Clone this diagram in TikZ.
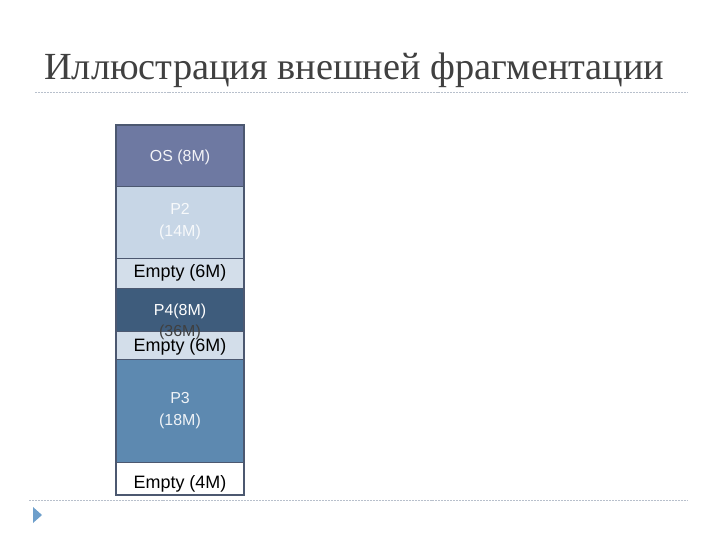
\documentclass[tikz,border=0pt]{standalone}
\usepackage{fontspec}
\setmainfont{Liberation Serif}
\setsansfont{Liberation Sans}
\definecolor{titlec}{HTML}{404040}
\definecolor{osc}{HTML}{6E79A2}
\definecolor{p2c}{HTML}{C7D6E6}
\definecolor{emc}{HTML}{D3DEEA}
\definecolor{p4c}{HTML}{3E5C7C}
\definecolor{p3c}{HTML}{5D89B0}
\definecolor{bordc}{HTML}{4C5870}
\definecolor{dashc}{HTML}{B8C0CC}
\definecolor{bulc}{HTML}{6E9FCB}
\tikzset{
  blk/.style={draw=bordc, line width=1.3pt},
  lbl/.style={font=\sffamily\fontsize{16}{19}\selectfont, align=center, inner sep=0pt},
  elbl/.style={font=\sffamily\fontsize{18}{21}\selectfont, text=black, inner sep=0pt},
  sep/.style={draw=dashc, dashed, dash pattern=on 2pt off 1pt, line width=0.6pt}
}
\begin{document}
\begin{tikzpicture}[x=1bp,y=-1bp]
\useasboundingbox (0,0) rectangle (720,540);
% title
\node[anchor=base west, inner sep=0pt, text=titlec, font=\fontsize{38.5}{44}\selectfont] (title) at (44,80) {Иллюстрация внешней фрагментации};
\coordinate (t1) at (35,92); \coordinate (t2) at (688,92);
\draw[sep] (t1) -- (t2);
% blocks
\fill[osc] (116,125) rectangle (244,186);
\fill[p2c] (116,186) rectangle (244,258);
\fill[emc] (116,258) rectangle (244,288);
\fill[p4c] (116,288) rectangle (244,331);
\fill[emc] (116,331) rectangle (244,359);
\fill[p3c] (116,359) rectangle (244,462);
\fill[white] (116,462) rectangle (244,495);
\draw[bordc, line width=1pt] (116,186) -- (244,186) (116,258) -- (244,258) (116,288) -- (244,288) (116,331) -- (244,331) (116,359) -- (244,359) (116,462) -- (244,462);
\draw[blk] (116,125) rectangle (244,495);
% labels
\node[lbl, text=white!92!osc] (os) at (180,157) {OS (8M)};
\node[lbl, text=white!85!p2c] (p2) at (180,222) {P2\\[3pt](14M)};
\node[elbl] (e1) at (180,273) {Empty (6M)};
\node[lbl, text=black!75] (p1) at (180,332) {(36M)};
\node[lbl, text=white] (p4) at (180,311) {P4(8M)};
\node[elbl] (e2) at (180,347) {Empty (6M)};
\node[lbl, text=white!90!p3c] (p3) at (180,411) {P3\\[3pt](18M)};
\node[elbl] (e3) at (180,484) {Empty (4M)};
% bottom
\coordinate (b1) at (29,500); \coordinate (b2) at (688,500);
\draw[sep] (b1) -- (b2);
\fill[bulc] (33,507) -- (42,515) -- (33,523) -- cycle;
\end{tikzpicture}
\end{document}
